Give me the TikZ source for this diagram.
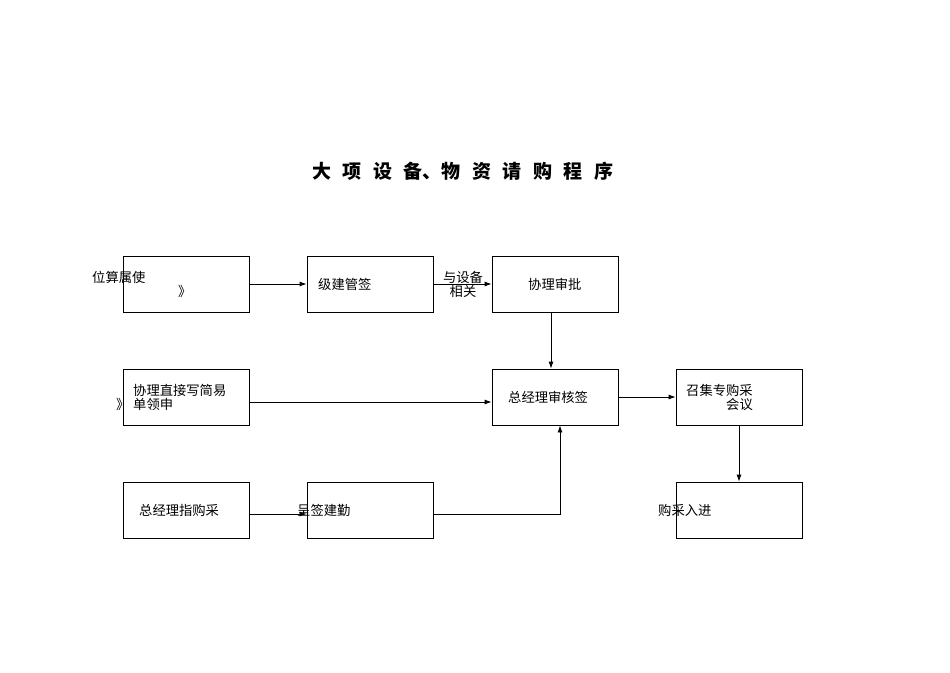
\documentclass[tikz,border=0pt]{standalone}
\usepackage{fontspec}
\setmainfont{Noto Sans CJK SC}
\usetikzlibrary{arrows.meta, positioning}

\tikzset{
  box/.style={draw, line width=0.8pt, minimum width=126pt, minimum height=56pt, inner sep=0pt},
  txt/.style={inner sep=0pt, anchor=west, font=\fontsize{13.3}{15}\selectfont},
  arr/.style={line width=0.8pt, -{Latex[length=7pt,width=5pt]}}
}

\begin{document}
\begin{tikzpicture}[x=1pt, y=-1pt]
        \useasboundingbox (0,0) rectangle (950,672);
        % title
        \node (title) at (463,171) {\fontsize{19}{22}\selectfont\bfseries 大\hspace{11.5pt}项\hspace{11.5pt}设\hspace{11.5pt}备、物\hspace{11.5pt}资\hspace{11.5pt}请\hspace{11.5pt}购\hspace{11.5pt}程\hspace{11.5pt}序};
        % boxes
        \node[box] (use) at (186,284) {};
        \node[box] (head) at (370,284) {};
        \node[box] (vp) at (555,284) {};
        \node[box] (simple) at (186,397) {};
        \node[box] (gm) at (555,397) {};
        \node[box] (meet) at (739,397) {};
        \node[box] (gmorder) at (186,510) {};
        \node[box] (sign) at (370,510) {};
        \node[box] (stock) at (739,510) {};
        % texts
        \node[txt] (usetxt) at (92,277) {位算属使};
        \node[txt] (usemark) at (178,291) {》};
        \node[txt] (headtxt) at (318,284) {级建管签};
        \node[txt] (vptxt) at (528,284) {协理审批};
        \node[txt] (simpletxt) at (133,390) {协理直接写简易};
        \node[txt] (simpletxt2) at (133,404) {单领申};
        \node[txt] (simplemark) at (116,404) {》};
        \node[txt] (gmtxt) at (508,397) {总经理审核签};
        \node[txt] (meettxt) at (686,390) {召集专购采};
        \node[txt] (meettxt2) at (726,404) {会议};
        \node[txt] (gmordertxt) at (139,510) {总经理指购采};
        \node[txt] (signtxt) at (297,510) {呈签建勤};
        \node[txt] (stocktxt) at (658,510) {购采入进};
        % connectors
        \draw[arr] (use) -- (head);
        \draw[arr] (head) -- (vp);
        \node[align=center, inner sep=0pt, font=\fontsize{13.3}{14}\selectfont] (rel) at (463,284) {与设备\\相关};
        \draw[arr] ([xshift=-4pt]vp.south) -- ([xshift=-4pt]gm.north);
        \draw[arr] ([yshift=-5pt]simple.east) -- ([yshift=-5pt]gm.west);
        \draw[arr] (gm) -- (meet);
        \draw[arr] (meet) -- (stock);
        \draw[arr] ([yshift=-4pt]gmorder.east) -- ([yshift=-4pt]sign.west);
        \draw[arr] ([yshift=-4pt]sign.east) -| ([xshift=5pt]gm.south);
\end{tikzpicture}
\end{document}
